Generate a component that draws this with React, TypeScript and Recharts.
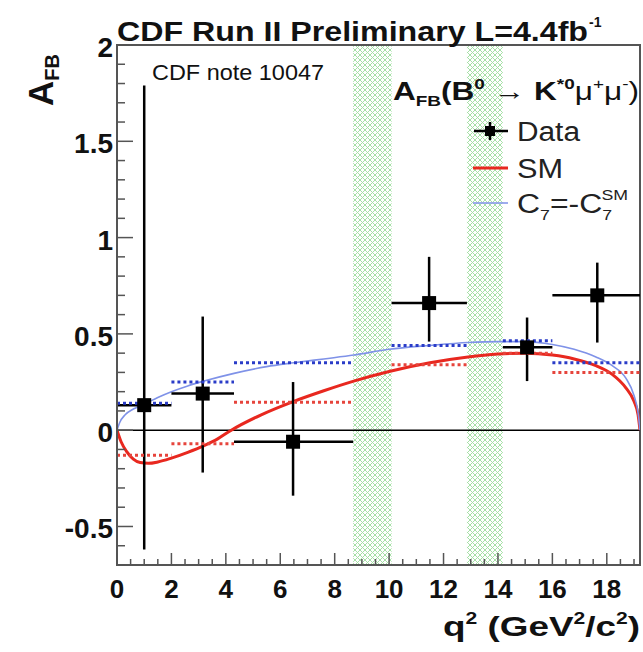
import React from 'react';
import {
  ComposedChart,
  XAxis,
  YAxis,
  Line,
  Scatter,
  ErrorBar,
  ReferenceArea,
  ReferenceLine,
} from 'recharts';

const W = 643;
const H = 652;
const FONT = '"Liberation Sans", Arial, Helvetica, sans-serif';
const AXIS = '#555';
const RED = '#e8281f';
const BLUE = '#7f92e8';
const RED_DOT = '#e6443c';
const BLUE_DOT = '#2a3cc8';

// q^2 bins (GeV^2/c^2)
const binLo = [0, 2, 4.3, 10.09, 14.18, 16];
const binHi = [2, 4.3, 8.68, 12.86, 16, 19.22];

// measured A_FB per bin
const dataQ2 = [1.0, 3.15, 6.47, 11.47, 15.07, 17.65];
const dataAfb = [0.13, 0.19, -0.06, 0.66, 0.43, 0.7];
const errUp = [1.66, 0.4, 0.31, 0.24, 0.155, 0.17];
const errDown = [0.75, 0.41, 0.28, 0.2, 0.175, 0.245];

// bin-averaged predictions (dotted)
const smBin = [-0.13, -0.07, 0.145, 0.34, 0.4, 0.3];
const flipBin = [0.14, 0.25, 0.35, 0.44, 0.465, 0.35];

// SM curve
const smQ2 = [0, 0.15, 0.35, 0.6, 0.85, 1.15, 1.5, 2.0, 2.6, 3.2, 3.7, 4.2, 5.3, 6.5, 7.6, 8.7, 10.0, 11.5, 12.9, 14.0, 15.0, 16.0, 16.8, 17.6, 18.2, 18.7, 19.0, 19.15, 19.22];
const smAfb = [0, -0.06, -0.11, -0.15, -0.168, -0.172, -0.165, -0.145, -0.115, -0.08, -0.045, 0, 0.08, 0.15, 0.205, 0.255, 0.305, 0.35, 0.38, 0.395, 0.4, 0.39, 0.37, 0.335, 0.29, 0.22, 0.15, 0.08, 0];

// C7 = -C7(SM) curve
const flipQ2 = [0, 0.1, 0.3, 0.6, 1.0, 1.5, 2.0, 2.6, 3.2, 4.3, 5.5, 6.5, 7.6, 8.7, 10.0, 11.5, 12.9, 14.0, 15.0, 16.0, 16.8, 17.6, 18.2, 18.7, 19.0, 19.15, 19.22];
const flipAfb = [0, 0.04, 0.08, 0.11, 0.135, 0.17, 0.2, 0.23, 0.255, 0.295, 0.33, 0.35, 0.37, 0.39, 0.42, 0.44, 0.455, 0.46, 0.46, 0.445, 0.42, 0.38, 0.335, 0.27, 0.18, 0.09, 0];

// charmonium veto regions
const vetoLo = [8.68, 12.86];
const vetoHi = [10.09, 14.18];

const X_MIN = 0;
const X_MAX = 19.22;
const Y_MIN = -0.7;
const Y_MAX = 2;

const xTicks = Array.from({ length: 39 }, (_, i) => i * 0.5);
const yTicks = Array.from({ length: 28 }, (_, i) => Math.round((-0.7 + i * 0.1) * 10) / 10);

const points = dataQ2.map((x, i) => ({
  x,
  y: dataAfb[i],
  ey: [errDown[i], errUp[i]],
  ex: [x - binLo[i], binHi[i] - x],
}));
const smLine = smQ2.map((x, i) => ({ x, y: smAfb[i] }));
const flipLine = flipQ2.map((x, i) => ({ x, y: flipAfb[i] }));

const XTick = (props: any) => {
  const { x, y, payload } = props;
  const v = payload.value;
  const major = v % 2 === 0;
  return (
    <g>
      <line x1={x} x2={x} y1={y} y2={y - (major ? 12 : 6)} stroke={AXIS} strokeWidth={1.5} />
      {major && (
        <text x={x} y={y + 33} textAnchor="middle" fontFamily={FONT} fontWeight="bold" fontSize={26} fill="#111">
          {v}
        </text>
      )}
    </g>
  );
};

const YTick = (props: any) => {
  const { x, y, payload } = props;
  const v = payload.value;
  const major = Math.abs(v * 2 - Math.round(v * 2)) < 1e-6;
  return (
    <g>
      <line x1={x} x2={x + (major ? 16 : 8)} y1={y} y2={y} stroke={AXIS} strokeWidth={1.5} />
      {major && (
        <text x={x - 4} y={y + 12} textAnchor="end" fontFamily={FONT} fontWeight="bold" fontSize={28} fill="#111">
          {String(v)}
        </text>
      )}
    </g>
  );
};

const Square = (props: any) => {
  const { cx, cy } = props;
  return <rect x={cx - 7} y={cy - 7} width={14} height={14} fill="#000" />;
};

function Overlay() {
  return (
    <svg width={W} height={H} style={{ position: 'absolute', left: 0, top: 0, pointerEvents: 'none' }} fontFamily={FONT}>
      {/* title */}
      <text x={117} y={41} fontWeight="bold" fontSize={27} fill="#111" textLength={471} lengthAdjust="spacingAndGlyphs">
        CDF Run II Preliminary L=4.4fb
      </text>
      <text x={589} y={27} fontWeight="bold" fontSize={14} fill="#111">-1</text>

      <text x={152} y={80} fontSize={22} fill="#111" textLength={172} lengthAdjust="spacingAndGlyphs">
        CDF note 10047
      </text>

      {/* y label */}
      <text transform="translate(53,106) rotate(-90)" fontWeight="bold" fill="#111">
        <tspan fontSize={35}>A</tspan>
        <tspan fontSize={20} dy={6}>FB</tspan>
      </text>

      {/* x label */}
      <text x={443} y={636} fontWeight="bold" fontSize={28} fill="#111" textLength={197} lengthAdjust="spacingAndGlyphs">
        q<tspan fontSize={16} dy={-12}>2</tspan>
        <tspan dy={12}> (GeV</tspan>
        <tspan fontSize={16} dy={-12}>2</tspan>
        <tspan dy={12}>/c</tspan>
        <tspan fontSize={16} dy={-12}>2</tspan>
        <tspan dy={12}>)</tspan>
      </text>

      {/* legend header */}
      <text x={393} y={100} fill="#111" fontSize={25} textLength={246} lengthAdjust="spacingAndGlyphs">
        <tspan fontWeight="bold">A</tspan>
        <tspan fontWeight="bold" fontSize={15} dy={6}>FB</tspan>
        <tspan fontWeight="bold" dy={-6}>(B</tspan>
        <tspan fontWeight="bold" fontSize={15} dy={-11}>0</tspan>
        <tspan dy={11}> → </tspan>
        <tspan fontWeight="bold">K</tspan>
        <tspan fontWeight="bold" fontSize={15} dy={-11}>*0</tspan>
        <tspan dy={11}>μ</tspan>
        <tspan fontSize={15} dy={-11}>+</tspan>
        <tspan dy={11}>μ</tspan>
        <tspan fontSize={15} dy={-11}>-</tspan>
        <tspan dy={11}>)</tspan>
      </text>

      {/* legend entries */}
      <line x1={474} x2={508} y1={131} y2={131} stroke="#000" strokeWidth={2.5} />
      <line x1={490} x2={490} y1={122} y2={140} stroke="#000" strokeWidth={2.5} />
      <rect x={485} y={126} width={10} height={10} fill="#000" />
      <text x={517} y={141} fontSize={27} fill="#222" textLength={63} lengthAdjust="spacingAndGlyphs">Data</text>

      <line x1={473} x2={508} y1={168} y2={168} stroke={RED} strokeWidth={3} />
      <text x={517} y={178} fontSize={27} fill="#222" textLength={46} lengthAdjust="spacingAndGlyphs">SM</text>

      <line x1={473} x2={508} y1={203} y2={203} stroke={BLUE} strokeWidth={1.5} />
      <text x={517} y={213} fontSize={27} fill="#222" textLength={111} lengthAdjust="spacingAndGlyphs">
        C<tspan fontSize={15} dy={7}>7</tspan>
        <tspan dy={-7}>=-C</tspan>
        <tspan fontSize={15} dy={7}>7</tspan>
        <tspan fontSize={15} dx={-9} dy={-20}>SM</tspan>
      </text>
    </svg>
  );
}

export default function App() {
  return (
    <div style={{ position: 'absolute', left: 0, top: 0, width: W, height: H, background: '#fff' }}>
      <svg width={0} height={0} style={{ position: 'absolute' }}>
        <defs>
          <pattern id="hatch" width={5} height={5} patternUnits="userSpaceOnUse">
            <rect width={5} height={5} fill="#ffffff" />
            <path d="M0,0 L5,5 M5,0 L0,5" stroke="#a6e0a6" strokeWidth={1} />
          </pattern>
        </defs>
      </svg>
      <ComposedChart width={W} height={H} margin={{ top: 45, right: 3, bottom: 0, left: 0 }}>
        <XAxis
          type="number"
          dataKey="x"
          domain={[X_MIN, X_MAX]}
          ticks={xTicks}
          interval={0}
          tick={<XTick />}
          tickLine={false}
          tickSize={0}
          tickMargin={0}
          height={87}
          axisLine={{ stroke: AXIS, strokeWidth: 2 }}
          allowDataOverflow
        />
        <YAxis
          type="number"
          domain={[Y_MIN, Y_MAX]}
          ticks={yTicks}
          interval={0}
          tick={<YTick />}
          tickLine={false}
          tickSize={0}
          tickMargin={0}
          width={117}
          axisLine={{ stroke: AXIS, strokeWidth: 2 }}
          allowDataOverflow
        />
        {vetoLo.map((lo, i) => (
          <ReferenceArea key={'veto' + i} x1={lo} x2={vetoHi[i]} y1={Y_MIN} y2={Y_MAX} fill="url(#hatch)" fillOpacity={1} stroke="none" />
        ))}
        <ReferenceLine y={0} stroke="#000" strokeWidth={1.5} />
        <Line data={smLine} dataKey="y" type="monotone" stroke={RED} strokeWidth={3} dot={false} activeDot={false} isAnimationActive={false} />
        <Line data={flipLine} dataKey="y" type="monotone" stroke={BLUE} strokeWidth={1.6} dot={false} activeDot={false} isAnimationActive={false} />
        <Scatter data={points} dataKey="y" shape={<Square />} isAnimationActive={false}>
          <ErrorBar dataKey="ey" direction="y" width={0} stroke="#000" strokeWidth={2.5} />
          <ErrorBar dataKey="ex" direction="x" width={0} stroke="#000" strokeWidth={2.5} />
        </Scatter>
        {binLo.map((lo, i) => (
          <Line
            key={'sm' + i}
            data={[{ x: lo, y: smBin[i] }, { x: binHi[i], y: smBin[i] }]}
            dataKey="y"
            stroke={RED_DOT}
            strokeWidth={3}
            strokeDasharray="3 3"
            dot={false}
            activeDot={false}
            isAnimationActive={false}
          />
        ))}
        {binLo.map((lo, i) => (
          <Line
            key={'flip' + i}
            data={[{ x: lo, y: flipBin[i] }, { x: binHi[i], y: flipBin[i] }]}
            dataKey="y"
            stroke={BLUE_DOT}
            strokeWidth={3}
            strokeDasharray="3 3"
            dot={false}
            activeDot={false}
            isAnimationActive={false}
          />
        ))}
        <ReferenceArea x1={X_MIN} x2={X_MAX} y1={Y_MIN} y2={Y_MAX} fill="none" stroke={AXIS} strokeWidth={2} />
      </ComposedChart>
      <Overlay />
    </div>
  );
}
